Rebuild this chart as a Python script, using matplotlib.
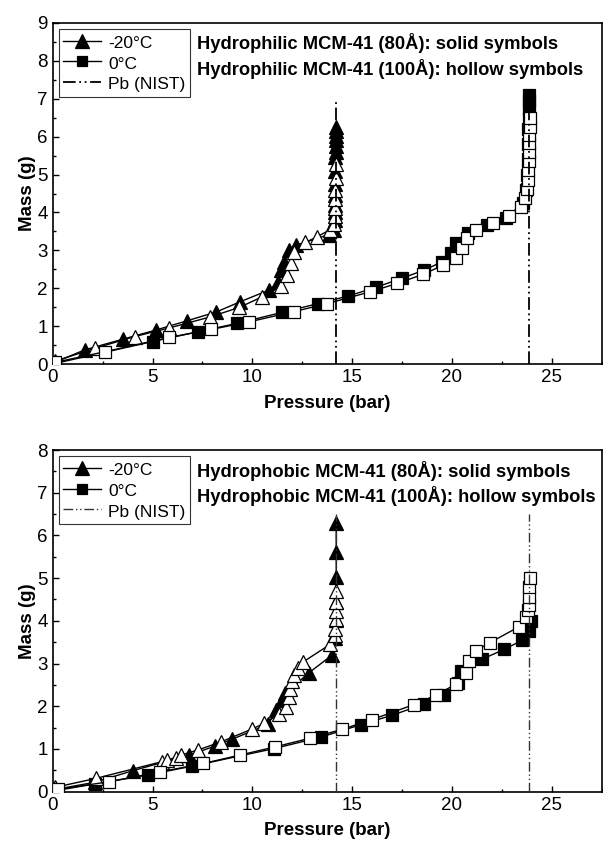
import matplotlib
matplotlib.use("Agg")
import matplotlib.pyplot as plt
from matplotlib.ticker import MultipleLocator

plt.rcParams['font.family'] = ['Liberation Sans', 'DejaVu Sans']

# ---- top panel: hydrophilic ----
top_t80_p = [0.1, 1.6, 3.5, 5.15, 6.75, 8.2, 9.4, 10.85, 11.3, 11.45, 11.6, 11.85, 12.2, 13.85,
             14.1, 14.12, 14.13, 14.14, 14.15, 14.15, 14.16, 14.16, 14.17, 14.17, 14.18, 14.18, 14.18, 14.18]
top_t80_m = [0.05, 0.38, 0.66, 0.9, 1.15, 1.38, 1.65, 1.96, 2.17, 2.48, 2.7, 3.0, 3.14, 3.42,
             3.55, 3.8, 4.0, 4.2, 4.45, 4.75, 5.1, 5.45, 5.6, 5.75, 5.9, 6.02, 6.14, 6.26]
top_t100_p = [0.1, 2.1, 4.1, 5.85, 7.9, 9.35, 10.5, 11.45, 11.75, 11.95, 12.1, 12.65, 13.25, 13.9,
              14.1, 14.12, 14.14, 14.15, 14.16, 14.17, 14.18]
top_t100_m = [0.08, 0.42, 0.73, 0.96, 1.25, 1.5, 1.78, 2.06, 2.35, 2.66, 2.95, 3.21, 3.36, 3.55,
              3.7, 3.9, 4.12, 4.35, 4.6, 4.92, 5.28]
top_s80_p = [0.1, 5.0, 7.3, 9.25, 11.5, 13.3, 14.8, 16.2, 17.5, 18.6, 19.5, 19.95, 20.2, 20.8, 21.75,
             22.7, 23.55, 23.72, 23.78, 23.8, 23.82, 23.83, 23.84, 23.85, 23.85, 23.86]
top_s80_m = [0.02, 0.6, 0.86, 1.08, 1.37, 1.6, 1.8, 2.03, 2.27, 2.48, 2.7, 2.94, 3.19, 3.47, 3.67,
             3.85, 4.25, 4.6, 5.0, 5.4, 5.8, 6.2, 6.5, 6.75, 6.95, 7.1]
top_s100_p = [0.1, 2.6, 5.85, 7.95, 9.85, 12.1, 13.75, 15.9, 17.25, 18.55, 19.55, 20.2, 20.5, 20.75,
              21.2, 22.05, 22.85, 23.45, 23.65, 23.75, 23.8, 23.83, 23.85, 23.86, 23.87, 23.88, 23.89, 23.9]
top_s100_m = [0.05, 0.33, 0.71, 0.92, 1.12, 1.39, 1.6, 1.91, 2.13, 2.37, 2.61, 2.79, 3.06, 3.32,
              3.54, 3.73, 3.91, 4.15, 4.37, 4.61, 4.85, 5.12, 5.36, 5.6, 5.82, 6.04, 6.26, 6.48]

# ---- bottom panel: hydrophobic ----
bot_t80_p = [0.1, 2.1, 4.0, 6.85, 8.15, 9.0, 10.8, 11.2, 11.5, 11.65, 12.85, 14.0, 14.15, 14.18,
             14.18, 14.2, 14.2, 14.2]
bot_t80_m = [0.05, 0.22, 0.49, 0.86, 1.07, 1.23, 1.58, 1.91, 2.14, 2.3, 2.79, 3.2, 3.59, 4.02,
             4.44, 5.03, 5.61, 6.28]
bot_t100_p = [0.1, 2.15, 5.45, 5.7, 6.2, 6.45, 7.3, 8.45, 10.0, 10.6, 11.35, 11.7, 11.85, 11.9,
              12.0, 12.1, 12.3, 12.55, 13.9, 14.12, 14.15, 14.17, 14.18, 14.18, 14.2]
bot_t100_m = [0.1, 0.31, 0.7, 0.74, 0.8, 0.86, 0.98, 1.17, 1.47, 1.6, 1.82, 1.99, 2.22, 2.4,
              2.58, 2.74, 2.9, 3.04, 3.45, 3.67, 3.8, 4.05, 4.24, 4.45, 4.7]
bot_s80_p = [0.1, 2.1, 4.75, 7.0, 11.1, 13.45, 15.45, 17.0, 18.6, 19.6, 20.3, 20.45, 21.5, 22.6,
             23.5, 23.85, 23.95]
bot_s80_m = [0.02, 0.18, 0.39, 0.6, 1.01, 1.28, 1.57, 1.79, 2.05, 2.27, 2.55, 2.83, 3.1, 3.33,
             3.54, 3.76, 4.0]
bot_s100_p = [0.28, 2.8, 5.35, 7.55, 9.4, 11.15, 12.87, 14.5, 16.0, 18.1, 19.2, 20.2, 20.7, 20.85,
              21.2, 21.9, 23.35, 23.7, 23.82, 23.85, 23.87, 23.88, 23.9]
bot_s100_m = [0.06, 0.23, 0.46, 0.66, 0.86, 1.05, 1.25, 1.46, 1.69, 2.04, 2.26, 2.52, 2.79, 3.06,
              3.3, 3.49, 3.86, 4.09, 4.25, 4.37, 4.56, 4.8, 5.0]

# saturation pressures (NIST) at -20 C and 0 C
pb_p = [14.2, 23.85]
pb_top = [6.95, 6.5]

ylims = [9, 8]
notes = [['Hydrophilic MCM-41 (80\u00c5): solid symbols', 'Hydrophilic MCM-41 (100\u00c5): hollow symbols'],
         ['Hydrophobic MCM-41 (80\u00c5): solid symbols', 'Hydrophobic MCM-41 (100\u00c5): hollow symbols']]

fig = plt.figure(figsize=(6.03, 8.51), dpi=100)
ax_top = fig.add_axes([0.0874, 0.5719, 0.9105, 0.4014])
ax_bot = fig.add_axes([0.0874, 0.0697, 0.9105, 0.4015])

panels = [
    (ax_top, top_t80_p, top_t80_m, top_t100_p, top_t100_m, top_s80_p, top_s80_m, top_s100_p, top_s100_m),
    (ax_bot, bot_t80_p, bot_t80_m, bot_t100_p, bot_t100_m, bot_s80_p, bot_s80_m, bot_s100_p, bot_s100_m),
]

for i, (ax, t80p, t80m, t100p, t100m, s80p, s80m, s100p, s100m) in enumerate(panels):
    kw = dict(color='black', lw=1.0, mec='black', mew=0.9)
    l1, = ax.plot(t80p, t80m, marker='^', ms=10.5, mfc='black', label='-20\u00b0C', zorder=3, **kw)
    l2, = ax.plot(s80p, s80m, marker='s', ms=8.2, mfc='black', label='0\u00b0C', zorder=3, **kw)
    ax.plot(t100p, t100m, marker='^', ms=10.5, mfc='white', zorder=4, **kw)
    ax.plot(s100p, s100m, marker='s', ms=8.2, mfc='white', zorder=4, **kw)
    pb_col = 'black' if i == 0 else '#333333'
    pb_lw = 1.3 if i == 0 else 1.0
    l3 = None
    for x in pb_p:
        l3, = ax.plot([x, x], [0, pb_top[i]], color=pb_col, lw=pb_lw,
                      linestyle=(0, (7, 2, 1, 2, 1, 2)), zorder=5)
    l3.set_label('Pb (NIST)')

    ax.set_xlim(0, 27.5)
    ax.set_ylim(0, ylims[i])
    ax.xaxis.set_major_locator(MultipleLocator(5))
    ax.xaxis.set_minor_locator(MultipleLocator(2.5))
    ax.yaxis.set_major_locator(MultipleLocator(1))
    ax.yaxis.set_minor_locator(MultipleLocator(0.5))
    ax.tick_params(which='both', direction='in', labelsize=13.5, width=1.0)
    ax.tick_params(which='major', length=4)
    ax.tick_params(which='minor', length=2.5)
    for s in ax.spines.values():
        s.set_linewidth(1.2)
    ax.set_xlabel('Pressure (bar)', fontsize=13.5, fontweight='bold', labelpad=6)
    ax.set_ylabel('Mass (g)', fontsize=13.5, fontweight='bold', labelpad=1)

    leg = ax.legend(handles=[l1, l2, l3], loc='upper left', fontsize=12.5, frameon=True,
                    fancybox=False, edgecolor='black', handlelength=2.2, handletextpad=0.4,
                    handleheight=1.2, borderpad=0.25, labelspacing=0.17, borderaxespad=0.35,
                    markerscale=0.95)
    leg.get_frame().set_linewidth(0.8)

    ax.text(0.263, 0.94, notes[i][0], transform=ax.transAxes, fontsize=13.2,
            fontweight='bold', va='center', ha='left')
    ax.text(0.263, 0.864, notes[i][1], transform=ax.transAxes, fontsize=13.2,
            fontweight='bold', va='center', ha='left')

fig.savefig('out.png', dpi=100)
